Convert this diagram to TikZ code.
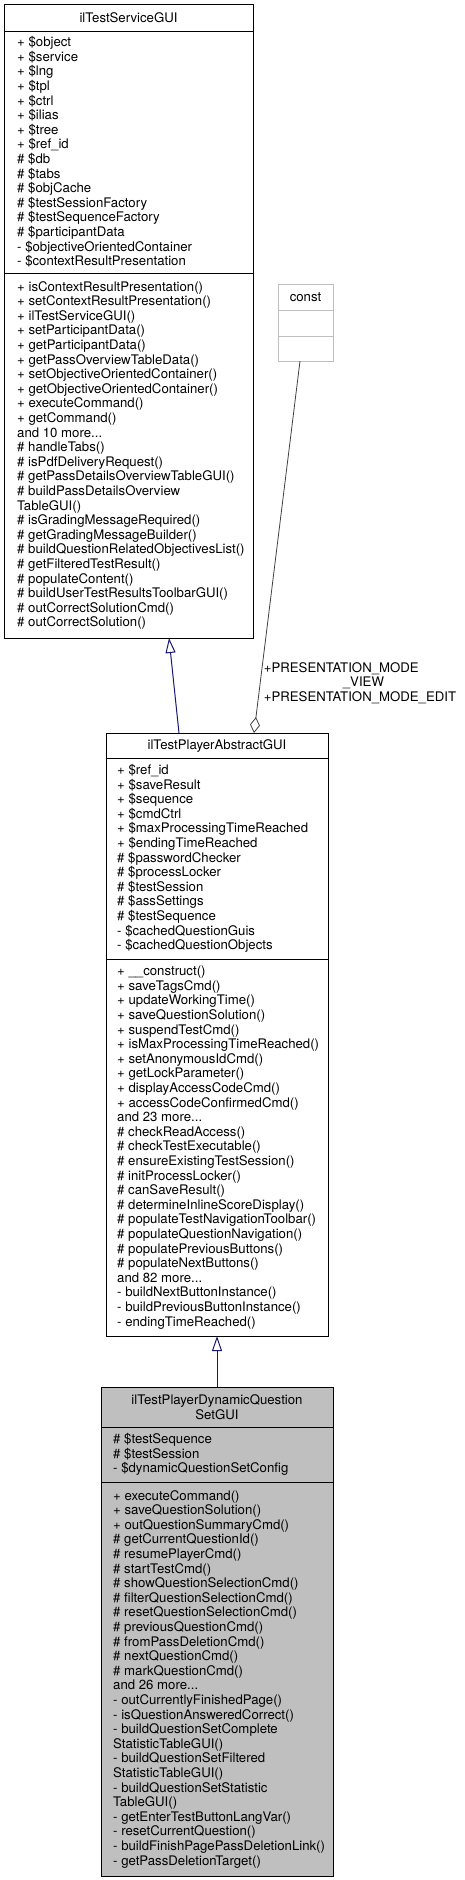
\documentclass[tikz,border=0pt]{standalone}
\usepackage{fontspec}
\setmainfont{TeX Gyre Heros}
\usetikzlibrary{arrows.meta,positioning}
\definecolor{edgeblue}{HTML}{191970}
\definecolor{boxgray}{HTML}{BFBFBF}
\definecolor{edgegray}{HTML}{404040}
\begin{document}
\begin{tikzpicture}[x=1pt,y=-1pt,font=\fontsize{13.2}{14.6}\selectfont,
  part/.style={draw=black,line width=1pt,inner sep=0pt,outer sep=0pt,minimum width=#1,anchor=north},
  members/.style={align=left,inner sep=0pt},
  inherit/.style={edgeblue,line width=1pt,-{Triangle[open,length=15pt,width=10pt]}},
  usage/.style={edgegray,line width=0.8pt,-{Diamond[open,length=16pt,width=10pt]}}]
  \useasboundingbox (0,0) rectangle (465,1880);
  \node[part=249,minimum height=27] (svc title) at (128.5,4) {ilTestServiceGUI};
  \node[part=249,minimum height=242,below=0pt of svc title] (svc attr) {};
  \node[part=249,minimum height=365,below=0pt of svc attr] (svc ops) {};
  \node[members,right=13pt of svc attr.west] (svc attr list) {+ \$object\\+ \$service\\+ \$lng\\+ \$tpl\\+ \$ctrl\\+ \$ilias\\+ \$tree\\+ \$ref\_id\\\# \$db\\\# \$tabs\\\# \$objCache\\\# \$testSessionFactory\\\# \$testSequenceFactory\\\# \$participantData\\- \$objectiveOrientedContainer\\- \$contextResultPresentation};
  \node[members,right=13pt of svc ops.west] (svc ops list) {+ isContextResultPresentation()\\+ setContextResultPresentation()\\+ ilTestServiceGUI()\\+ setParticipantData()\\+ getParticipantData()\\+ getPassOverviewTableData()\\+ setObjectiveOrientedContainer()\\+ getObjectiveOrientedContainer()\\+ executeCommand()\\+ getCommand()\\and 10 more...\\\# handleTabs()\\\# isPdfDeliveryRequest()\\\# getPassDetailsOverviewTableGUI()\\\# buildPassDetailsOverview\\TableGUI()\\\# isGradingMessageRequired()\\\# getGradingMessageBuilder()\\\# buildQuestionRelatedObjectivesList()\\\# getFilteredTestResult()\\\# populateContent()\\\# buildUserTestResultsToolbarGUI()\\\# outCorrectSolutionCmd()\\\# outCorrectSolution()};
  \node[part=55,minimum height=26,draw=boxgray] (const title) at (305.5,284) {const};
  \node[part=55,minimum height=26,draw=boxgray,below=0pt of const title] (const attr) {};
  \node[part=55,minimum height=25,draw=boxgray,below=0pt of const attr] (const ops) {};
  \node[part=222,minimum height=25] (abs title) at (217,733) {ilTestPlayerAbstractGUI};
  \node[part=222,minimum height=201,below=0pt of abs title] (abs attr) {};
  \node[part=222,minimum height=377,below=0pt of abs attr] (abs ops) {};
  \node[members,right=11pt of abs attr.west] (abs attr list) {+ \$ref\_id\\+ \$saveResult\\+ \$sequence\\+ \$cmdCtrl\\+ \$maxProcessingTimeReached\\+ \$endingTimeReached\\\# \$passwordChecker\\\# \$processLocker\\\# \$testSession\\\# \$assSettings\\\# \$testSequence\\- \$cachedQuestionGuis\\- \$cachedQuestionObjects};
  \node[members,right=11pt of abs ops.west] (abs ops list) {+ \_\_construct()\\+ saveTagsCmd()\\+ updateWorkingTime()\\+ saveQuestionSolution()\\+ suspendTestCmd()\\+ isMaxProcessingTimeReached()\\+ setAnonymousIdCmd()\\+ getLockParameter()\\+ displayAccessCodeCmd()\\+ accessCodeConfirmedCmd()\\and 23 more...\\\# checkReadAccess()\\\# checkTestExecutable()\\\# ensureExistingTestSession()\\\# initProcessLocker()\\\# canSaveResult()\\\# determineInlineScoreDisplay()\\\# populateTestNavigationToolbar()\\\# populateQuestionNavigation()\\\# populatePreviousButtons()\\\# populateNextButtons()\\and 82 more...\\- buildNextButtonInstance()\\- buildPreviousButtonInstance()\\- endingTimeReached()};
  \node[part=232,minimum height=40,fill=boxgray,align=center] (dyn title) at (217,1387) {ilTestPlayerDynamicQuestion\\SetGUI};
  \node[part=232,minimum height=55,fill=boxgray,below=0pt of dyn title] (dyn attr) {};
  \node[part=232,minimum height=394,fill=boxgray,below=0pt of dyn attr] (dyn ops) {};
  \node[members,right=12pt of dyn attr.west] (dyn attr list) {\# \$testSequence\\\# \$testSession\\- \$dynamicQuestionSetConfig};
  \node[members,right=12pt of dyn ops.west] (dyn ops list) {+ executeCommand()\\+ saveQuestionSolution()\\+ outQuestionSummaryCmd()\\\# getCurrentQuestionId()\\\# resumePlayerCmd()\\\# startTestCmd()\\\# showQuestionSelectionCmd()\\\# filterQuestionSelectionCmd()\\\# resetQuestionSelectionCmd()\\\# previousQuestionCmd()\\\# fromPassDeletionCmd()\\\# nextQuestionCmd()\\\# markQuestionCmd()\\and 26 more...\\- outCurrentlyFinishedPage()\\- isQuestionAnsweredCorrect()\\- buildQuestionSetComplete\\StatisticTableGUI()\\- buildQuestionSetFiltered\\StatisticTableGUI()\\- buildQuestionSetStatistic\\TableGUI()\\- getEnterTestButtonLangVar()\\- resetCurrentQuestion()\\- buildFinishPagePassDeletionLink()\\- getPassDeletionTarget()};
  \draw[inherit] ([xshift=-38pt]abs title.north) -- ([xshift=40.5pt]svc ops.south);
  \draw[inherit] (dyn title.north) -- (abs ops.south);
  \draw[usage] ([xshift=-5.5pt]const ops.south) -- ([xshift=37pt]abs title.north);
  \node[members] (mode label) at (360,683) {+PRESENTATION\_MODE\\\hspace*{79pt}\_VIEW\\+PRESENTATION\_MODE\_EDIT};
\end{tikzpicture}
\end{document}
